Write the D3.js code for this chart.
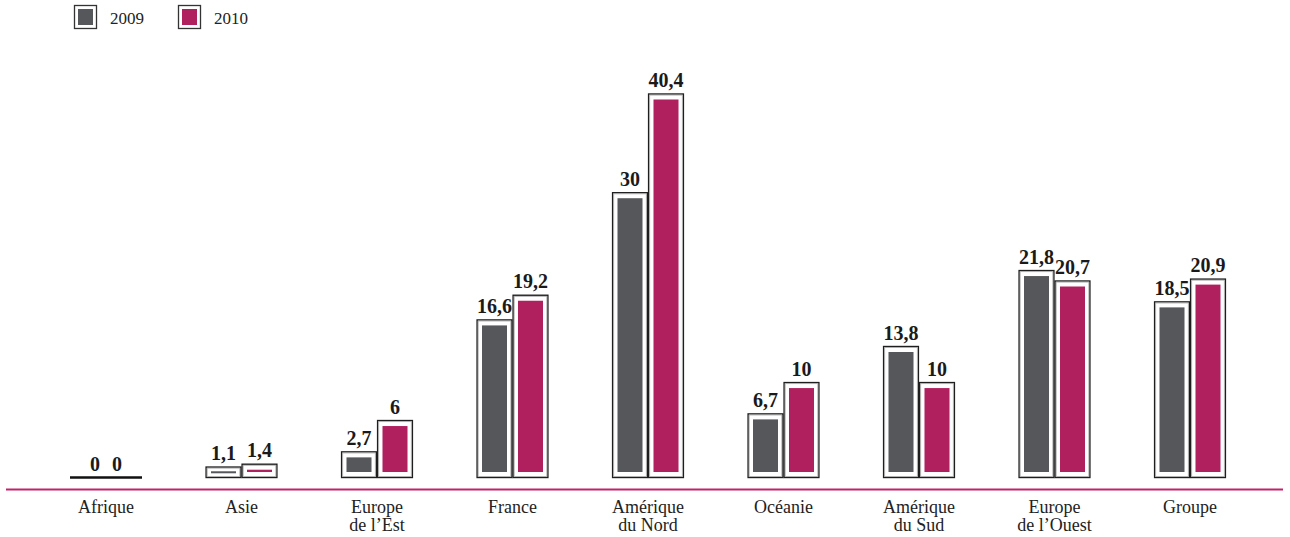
<!DOCTYPE html>
<html><head><meta charset="utf-8">
<script src="https://cdn.jsdelivr.net/npm/d3@7"></script>
<style>body{margin:0;background:#fff}svg{display:block}</style>
</head><body>
<svg id="c" width="1290" height="537"></svg>
<script>
const categories = [["Afrique"],["Asie"],["Europe","de l’Est"],["France"],["Amérique","du Nord"],["Océanie"],["Amérique","du Sud"],["Europe","de l’Ouest"],["Groupe"]];
const series = ["2009","2010"];
const values2009 = [0,1.1,2.7,16.6,30,6.7,13.8,21.8,18.5];
const values2010 = [0,1.4,6,19.2,40.4,10,10,20.7,20.9];
const valueLabels2009 = ["0","1,1","2,7","16,6","30","6,7","13,8","21,8","18,5"];
const valueLabels2010 = ["0","1,4","6","19,2","40,4","10","10","20,7","20,9"];
const colors = ["#55575a","#b01f5e"];

const svg = d3.select("#c");
const serif = "Liberation Serif, Tinos, Times New Roman, DejaVu Serif, serif";
const x = d3.scalePoint().domain(d3.range(categories.length)).range([106,1190]);
const sub = d3.scaleBand().domain([0,1]).range([-36,36]);
const y = d3.scaleLinear().domain([0,40.4]).range([477.5,94]);

// baseline
svg.append("line").attr("x1",6).attr("x2",1283).attr("y1",489.5).attr("y2",489.5)
  .attr("stroke","#c2226a").attr("stroke-width",2);

const data = [];
categories.forEach((c,i)=>{
  [values2009[i],values2010[i]].forEach((v,s)=>{
    data.push({i,s,v,label:(s?valueLabels2010:valueLabels2009)[i]});
  });
});
const g = svg.append("g");
data.forEach(d=>{
  const x0 = x(d.i)+sub(d.s);
  const w = sub.bandwidth();
  const top = y(d.v), bot = y(0);
  const h = bot-top;
  let lx = x0+w/2;
  if (d.v===0){
    g.append("line").attr("x1",x0).attr("x2",x0+w).attr("y1",bot).attr("y2",bot)
      .attr("stroke","#111").attr("stroke-width",2.4);
    lx = x(d.i) + (d.s ? 11 : -11);
  } else {
    g.append("rect").attr("x",x0+0.6).attr("y",top).attr("width",w-1.2).attr("height",h)
      .attr("fill","#fff").attr("stroke","#1e1e1e").attr("stroke-width",1.4);
    g.append("rect").attr("x",x0+1.7).attr("y",top+1.1).attr("width",w-3.4).attr("height",h-2.2)
      .attr("fill","none").attr("stroke","#aaa").attr("stroke-width",0.8);
    const ih = Math.max(h-11, 2);
    const iy = h-11 < 2 ? top + h/2 - 1 : top+5.5;
    g.append("rect").attr("x",x0+5.5).attr("y",iy).attr("width",w-11).attr("height",ih)
      .attr("fill",colors[d.s]);
  }
  g.append("text").attr("x",lx).attr("y",top-7).attr("text-anchor","middle")
    .style("font-family",serif).attr("font-weight","bold").attr("font-size",20)
    .attr("fill","#1a1a1a").text(d.label);
});

// category labels
categories.forEach((c,i)=>{
  const t = svg.append("text").attr("x",x(i)).attr("y",513).attr("text-anchor","middle")
    .style("font-family",serif).attr("font-size",18).attr("fill","#222");
  c.forEach((line,k)=>t.append("tspan").attr("x",x(i)).attr("dy",k?18:0).text(line));
});

// legend
const lxs = [74,178];
series.forEach((s,k)=>{
  svg.append("rect").attr("x",lxs[k]+0.5).attr("y",5.5).attr("width",22).attr("height",23)
    .attr("fill","#fff").attr("stroke","#333").attr("stroke-width",1.3);
  svg.append("rect").attr("x",lxs[k]+4).attr("y",9).attr("width",15).attr("height",16)
    .attr("fill",colors[k]);
  svg.append("text").attr("x",lxs[k]+36).attr("y",24).style("font-family",serif)
    .attr("font-size",17).attr("fill","#222").text(s);
});
</script>
</body></html>
